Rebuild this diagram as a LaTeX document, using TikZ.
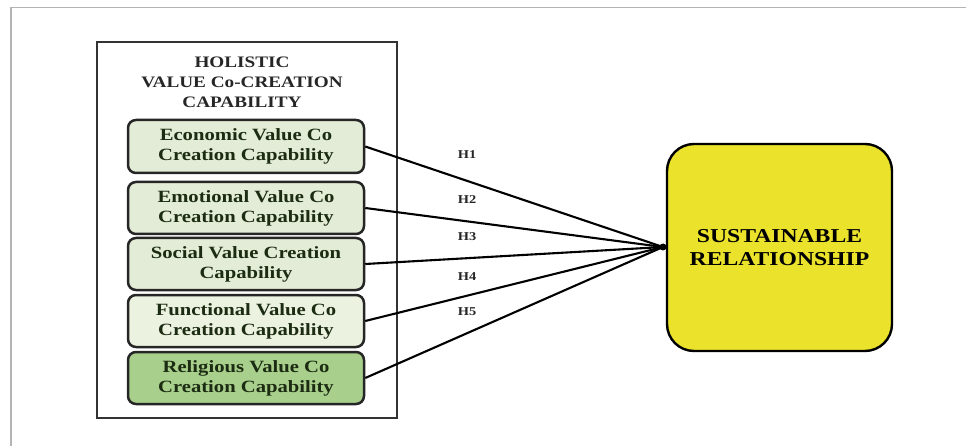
\documentclass[tikz,border=0pt]{standalone}
\usepackage{fontspec}
\setmainfont{Liberation Serif}
\newfontfamily\wide[FakeStretch=1.2]{Liberation Serif}
\definecolor{lightgr}{HTML}{E3ECD6}
\definecolor{paler}{HTML}{ECF2E0}
\definecolor{darkgr}{HTML}{A8CF8C}
\definecolor{yel}{HTML}{EBE22C}
\definecolor{txtgr}{HTML}{1C2C12}
\definecolor{frame}{HTML}{B4B4B4}
\begin{document}
\begin{tikzpicture}[x=1pt,y=-1pt,
  capbox/.style={draw=black!85, line width=2.5pt, rounded corners=8pt, minimum width=236pt, minimum height=52pt, inner sep=0pt, align=center, text=txtgr, font=\wide\bfseries\fontsize{17.2}{20}\selectfont},
  link/.style={line width=2.1pt, black},
  hlab/.style={font=\wide\bfseries\fontsize{12}{12}\selectfont, text=black!85, inner sep=0pt}]
\useasboundingbox (0,0) rectangle (966,446);
\draw[frame, line width=1.5pt] (11,446) -- (11,7.5) -- (966,7.5);
\node[draw=black!80, line width=2pt, minimum width=300pt, minimum height=376pt, inner sep=0pt] (outer) at (247,230) {};
\node[align=center, text=black!85, font=\wide\bfseries\fontsize{16}{20}\selectfont, inner sep=0pt] (title) at (242,82) {HOLISTIC\\VALUE Co-CREATION\\CAPABILITY};
\node[capbox, fill=lightgr, minimum height=53pt] (eco) at (246,146.5) {Economic Value Co\\Creation Capability};
\node[capbox, fill=lightgr] (emo) at (246,208) {Emotional Value Co\\Creation Capability};
\node[capbox, fill=lightgr] (soc) at (246,264) {Social Value Creation\\Capability};
\node[capbox, fill=paler] (fun) at (246,321) {Functional Value Co\\Creation Capability};
\node[capbox, fill=darkgr] (rel) at (246,378) {Religious Value Co\\Creation Capability};
\node[draw=black, line width=2.4pt, fill=yel, rounded corners=27pt, minimum width=225pt, minimum height=207pt, inner sep=0pt, align=center, font=\wide\bfseries\fontsize{19.7}{23}\selectfont] (sr) at (779.5,247.5) {SUSTAINABLE\\RELATIONSHIP};
\coordinate (conv) at (663,247);
\draw[link] (eco.east) -- (conv);
\draw[link] (emo.east) -- (conv);
\draw[link] (soc.east) -- (conv);
\draw[link] (fun.east) -- (conv);
\draw[link] (rel.east) -- (conv);
\fill[black] (conv) circle (3.5pt);
\node[hlab] (h1) at (467,155) {H1};
\node[hlab] (h2) at (467,200) {H2};
\node[hlab] (h3) at (467,237) {H3};
\node[hlab] (h4) at (467,277) {H4};
\node[hlab] (h5) at (467,312) {H5};
\end{tikzpicture}
\end{document}
